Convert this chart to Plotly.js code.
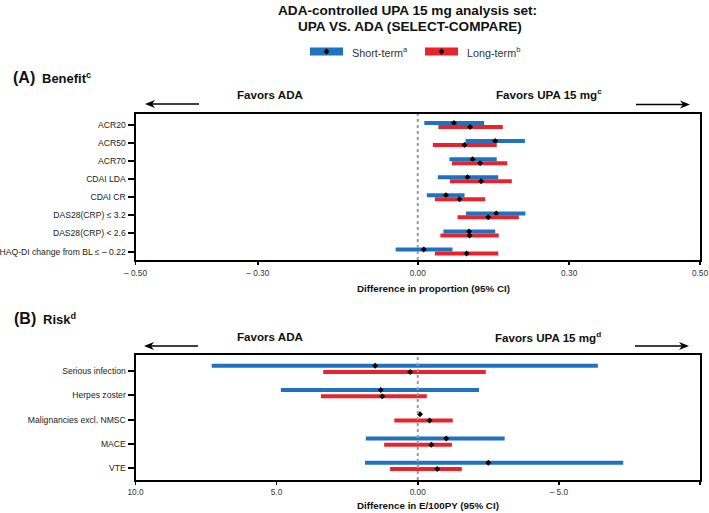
<!DOCTYPE html>
<html>
<head>
<meta charset="utf-8">
<script src="https://cdn.plot.ly/plotly-3.0.1.min.js"></script>
<style>html,body{margin:0;padding:0;background:#fff;}#chart{width:709px;height:513px;}</style>
</head>
<body>
<div id="chart"></div>
<script>
// ---------- DATA ----------
const benefitCategories = ['ACR20','ACR50','ACR70','CDAI LDA','CDAI CR','DAS28(CRP) ≤ 3.2','DAS28(CRP) < 2.6','HAQ-DI change from BL ≤ – 0.22'];
const benefitShortEst  = [0.072, 0.154, 0.109, 0.099, 0.056, 0.156, 0.102, 0.012];
const benefitShortLow  = [0.013, 0.095, 0.063, 0.040, 0.018, 0.096, 0.051, -0.044];
const benefitShortHigh = [0.132, 0.213, 0.157, 0.160, 0.093, 0.214, 0.154, 0.069];
const benefitLongEst   = [0.104, 0.093, 0.124, 0.126, 0.083, 0.140, 0.103, 0.097];
const benefitLongLow   = [0.041, 0.030, 0.068, 0.064, 0.034, 0.079, 0.045, 0.034];
const benefitLongHigh  = [0.169, 0.157, 0.178, 0.187, 0.134, 0.201, 0.161, 0.160];
const benefitTickVals  = [-0.561, -0.318, 0, 0.301, 0.561];
const benefitTickText  = ['– 0.50','– 0.30','0.00','0.30','0.50'];

const riskCategories = ['Serious infection','Herpes zoster','Malignancies excl. NMSC','MACE','VTE'];
const riskShortEst  = [1.51, 1.31, -0.08, -1.01, -2.50];
const riskShortLow  = [-6.38, -2.17, -0.08, -3.08, -7.28];
const riskShortHigh = [7.30, 4.85, -0.08, 1.84, 1.87];
const riskLongEst   = [0.27, 1.26, -0.42, -0.48, -0.69];
const riskLongLow   = [-2.41, -0.32, -1.24, -1.21, -1.56];
const riskLongHigh  = [3.35, 3.43, 0.83, 1.19, 0.98];
const riskTickVals  = [10, 5, 0, -5, -10];
const riskTickText  = ['10.0','5.0','0.00','– 5.0','– 10.0'];

// ---------- STYLE ----------
const W = 709, H = 513;
const fx = p => p / W;
const fy = p => 1 - p / H;
const BLUE = '#1f72bf', RED = '#e8232b';
const FONT = 'Liberation Sans, Arial, Helvetica, sans-serif';

function segs(lo, hi, n, off) {
  const x = [], y = [];
  for (let i = 0; i < n; i++) { x.push(lo[i], hi[i], null); y.push(i + off, i + off, null); }
  return {x, y};
}
function pts(est, off) { return {x: est.slice(), y: est.map((_, i) => i + off)}; }

const traces = [];
function addSeries(lo, hi, est, off, color, xa, ya, name) {
  const s = segs(lo, hi, est.length, off);
  traces.push({type:'scatter', mode:'lines', x:s.x, y:s.y, xaxis:xa, yaxis:ya, name:name,
    line:{color:color, width:4}, showlegend:false, hoverinfo:'skip'});
  const p = pts(est, off);
  traces.push({type:'scatter', mode:'markers', x:p.x, y:p.y, xaxis:xa, yaxis:ya, name:name,
    marker:{symbol:'diamond', size:4.6, color:'#000'}, showlegend:false, hoverinfo:'skip'});
}
addSeries(benefitShortLow, benefitShortHigh, benefitShortEst, -0.11, BLUE, 'x', 'y', 'Short-term');
addSeries(benefitLongLow, benefitLongHigh, benefitLongEst, 0.11, RED, 'x', 'y', 'Long-term');
addSeries(riskShortLow, riskShortHigh, riskShortEst, -0.22, BLUE, 'x2', 'y2', 'Short-term');
addSeries(riskLongLow, riskLongHigh, riskLongEst, 0.04, RED, 'x2', 'y2', 'Long-term');

const axBase = {showline:true, mirror:true, linecolor:'#000', linewidth:2, showgrid:false,
  zeroline:false, ticks:'outside', tickcolor:'#000', automargin:false, fixedrange:true};
const xDomain = [fx(135.5), fx(700)];

const layout = {
  width: W, height: H,
  margin: {l:0, r:0, t:0, b:0},
  paper_bgcolor:'#fff', plot_bgcolor:'#fff',
  showlegend:false, hovermode:false,
  font:{family:FONT, color:'#222'},
  xaxis: Object.assign({}, axBase, {domain:xDomain, anchor:'y', range:[-0.561, 0.561],
    tickmode:'array', tickvals:benefitTickVals, ticktext:benefitTickText,
    ticklen:3, tickwidth:1.5, tickfont:{size:8.3, color:'#333'}, ticklabelstandoff:1}),
  yaxis: Object.assign({}, axBase, {domain:[fy(260), fy(114)], anchor:'x', range:[7.47, -0.61],
    tickmode:'array', tickvals:benefitCategories.map((_, i) => i), ticktext:benefitCategories,
    ticklen:6, tickwidth:2, tickfont:{size:8.6, color:'#222'}}),
  xaxis2: Object.assign({}, axBase, {domain:xDomain, anchor:'y2', range:[10, -10],
    tickmode:'array', tickvals:riskTickVals, ticktext:riskTickText,
    ticklen:3, tickwidth:1.5, tickfont:{size:8.3, color:'#333'}, ticklabelstandoff:0}),
  yaxis2: Object.assign({}, axBase, {domain:[fy(480), fy(355)], anchor:'x2', range:[4.49, -0.66],
    tickmode:'array', tickvals:riskCategories.map((_, i) => i), ticktext:riskCategories,
    ticklen:6, tickwidth:2, tickfont:{size:8.6, color:'#222'}}),
  shapes: [],
  annotations: []
};

// zero reference lines
['', '2'].forEach(k => {
  layout.shapes.push({type:'line', xref:'x' + k, yref:'y' + k + ' domain', x0:0, x1:0, y0:0, y1:1,
    line:{color:'#9b9b9b', width:2, dash:'3px,3px'}});
});

// manual legend
function legendItem(x0, x1, color) {
  layout.shapes.push({type:'rect', xref:'paper', yref:'paper', x0:fx(x0), x1:fx(x1), y0:fy(55.5), y1:fy(47.5),
    fillcolor:color, line:{width:0}});
  const cx = (x0 + x1) / 2, cy = 51.5;
  layout.shapes.push({type:'path', xref:'paper', yref:'paper',
    path:`M ${fx(cx)},${fy(cy-3.3)} L ${fx(cx+2.8)},${fy(cy)} L ${fx(cx)},${fy(cy+3.3)} L ${fx(cx-2.8)},${fy(cy)} Z`,
    fillcolor:'#000', line:{width:0}});
}
legendItem(310, 343, BLUE);
legendItem(425, 458, RED);

// arrows (decorations) as shapes
function arrow(head, tail, y) {
  const dir = tail > head ? 1 : -1;
  const back = head + dir * 10, notch = head + dir * 7;
  layout.shapes.push({type:'line', xref:'paper', yref:'paper', x0:fx(tail), x1:fx(notch), y0:fy(y), y1:fy(y),
    line:{color:'#000', width:1.6}});
  layout.shapes.push({type:'path', xref:'paper', yref:'paper',
    path:`M ${fx(head)},${fy(y)} L ${fx(back)},${fy(y-4)} L ${fx(notch)},${fy(y)} L ${fx(back)},${fy(y+4)} Z`,
    fillcolor:'#000', line:{width:0}});
}

function ann(text, x, y, size, opts) {
  layout.annotations.push(Object.assign({xref:'paper', yref:'paper', x:fx(x), y:fy(y), text:text,
    showarrow:false, xanchor:'left', yanchor:'middle', font:{family:FONT, size:size, color:'#111'}}, opts || {}));
}

// titles
ann('<b>ADA-controlled UPA 15 mg analysis set:</b>', 407.5, 10, 13.6, {xanchor:'center'});
ann('<b>UPA VS. ADA (SELECT-COMPARE)</b>', 409.5, 26, 13.6, {xanchor:'center'});
// legend texts
ann('Short-term<sup>a</sup>', 350, 52, 10.8, {font:{family:FONT, size:10.8, color:'#333'}});
ann('Long-term<sup>b</sup>', 465, 52, 10.8, {font:{family:FONT, size:10.8, color:'#333'}});

// panel A labels
ann('<b>(A)</b>', 11, 77, 16);
ann('<b>Benefit<sup>c</sup></b>', 40, 78, 13);
ann('<b>Favors ADA</b>', 235, 94, 11.6);
ann('<b>Favors UPA 15 mg<sup>c</sup></b>', 494, 94, 11.6);
arrow(145, 199, 104);
arrow(690, 636, 104.5);
ann('<b>Difference in proportion (95% CI)</b>', 433, 288, 9.8, {xanchor:'center'});

// panel B labels
ann('<b>(B)</b>', 12, 318, 16);
ann('<b>Risk<sup>d</sup></b>', 41, 319, 13);
ann('<b>Favors ADA</b>', 235, 336.5, 11.6);
ann('<b>Favors UPA 15 mg<sup>d</sup></b>', 493, 336.5, 11.6);
arrow(144, 198, 346);
arrow(689, 635, 346);
ann('<b>Difference in E/100PY (95% CI)</b>', 428, 505, 9.8, {xanchor:'center'});

Plotly.newPlot('chart', traces, layout, {displayModeBar:false, staticPlot:true});
</script>
</body>
</html>
